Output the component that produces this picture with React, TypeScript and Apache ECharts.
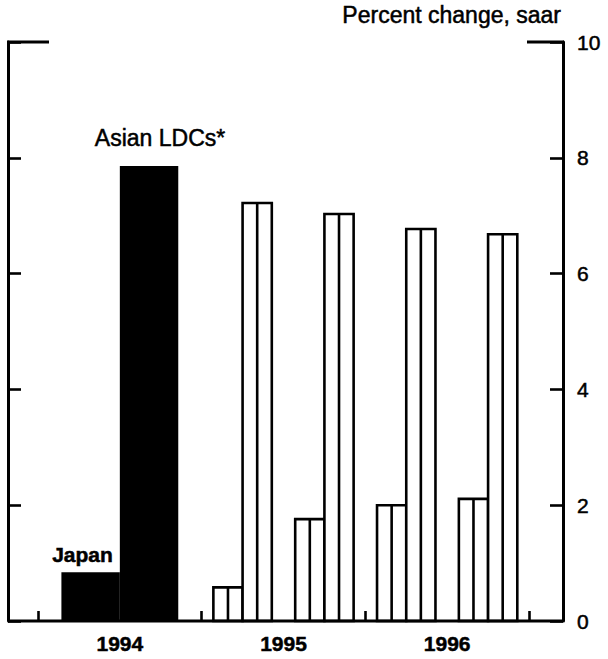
import React, { useEffect, useRef } from 'react';
import * as echarts from 'echarts';

// ---- data ----
const periods = ['1994', '1995 H1', '1995 H2', '1996 H1', '1996 H2'];
const periodStart = [1994, 1995, 1995.5, 1996, 1996.5];
const periodEnd = [1995, 1995.5, 1996, 1996.5, 1997];
const japan = [0.84, 0.58, 1.76, 2.0, 2.11];
const asianLDCs = [7.86, 7.22, 7.03, 6.77, 6.68];
const yearLabels = ['1994', '1995', '1996'];
const yMin = 0;
const yMax = 10;
const yInterval = 2;

const FONT = '"Liberation Sans", Arial, Helvetica, sans-serif';
const BAR_FRAC = 0.357;
const LW = 2.6;
const TB = 0.5; // slight text thickening, like the printed original

function makeRender(side: number, labelText: string) {
  return (params: any, api: any) => {
    const s = api.value(0);
    const e = api.value(1);
    const v = api.value(2);
    const c = (s + e) / 2;
    const w = BAR_FRAC * (e - s);
    const x0 = side < 0 ? c - w : c;
    const x1 = side < 0 ? c : c + w;
    const p0 = api.coord([x0, v]);
    const p1 = api.coord([x1, 0]);
    const annual = e - s >= 1;
    const shape = { x: p0[0], y: p0[1], width: p1[0] - p0[0], height: p1[1] - p0[1] };
    const children: any[] = [];
    if (annual) {
      children.push({ type: 'rect', shape, style: { fill: '#000' } });
    } else {
      children.push({ type: 'rect', shape, style: { fill: '#fff', stroke: '#000', lineWidth: LW } });
      const xm = (p0[0] + p1[0]) / 2;
      children.push({
        type: 'line',
        shape: { x1: xm, y1: p0[1], x2: xm, y2: p1[1] },
        style: { stroke: '#000', lineWidth: LW },
      });
    }
    if (params.dataIndex === 0) {
      if (side < 0) {
        children.push({
          type: 'text',
          x: p1[0] - 7,
          y: p0[1] - 18,
          style: {
            text: labelText, align: 'right', verticalAlign: 'middle',
            fontSize: 21, fontWeight: 'bold', fontFamily: FONT, fill: '#000',
            stroke: '#000', lineWidth: TB,
          },
        });
      } else {
        children.push({
          type: 'text',
          x: p0[0] - 25,
          y: p0[1] - 28,
          style: {
            text: labelText, align: 'left', verticalAlign: 'middle',
            fontSize: 23, fontFamily: FONT, fill: '#000',
            stroke: '#000', lineWidth: TB,
          },
        });
      }
    }
    return { type: 'group', children };
  };
}

export default function App() {
  const ref = useRef<HTMLDivElement>(null);
  useEffect(() => {
    document.body.style.margin = '0';
    if (!ref.current) return;
    const chart = echarts.init(ref.current, null, { renderer: 'svg' });
    const japanData = japan.map((v, i) => [periodStart[i], periodEnd[i], v, periods[i]]);
    const asianData = asianLDCs.map((v, i) => [periodStart[i], periodEnd[i], v, periods[i]]);
    chart.setOption({
      animation: false,
      backgroundColor: '#fff',
      grid: { left: 38, right: 79, top: 42, bottom: 38, containLabel: false },
      xAxis: [
        { type: 'value', min: 1994, max: 1997, show: false },
        {
          type: 'category',
          data: yearLabels,
          position: 'bottom',
          boundaryGap: true,
          axisLine: { show: false },
          axisTick: { show: true, inside: true, length: 10, interval: 0, lineStyle: { color: '#000', width: LW } },
          axisLabel: {
            margin: 12, fontSize: 21, fontWeight: 'bold', fontFamily: FONT, color: '#000',
            textBorderColor: '#000', textBorderWidth: TB,
          },
          splitLine: { show: false },
        },
      ],
      yAxis: [
        {
          type: 'value', position: 'left', offset: 30,
          min: yMin, max: yMax, interval: yInterval,
          axisLine: { show: true, lineStyle: { color: '#000', width: 3 } },
          axisTick: { show: true, inside: true, length: 13, lineStyle: { color: '#000', width: LW } },
          axisLabel: { show: false },
          splitLine: { show: false },
        },
        {
          type: 'value', position: 'right', offset: 34,
          min: yMin, max: yMax, interval: yInterval,
          axisLine: { show: true, lineStyle: { color: '#000', width: 3 } },
          axisTick: { show: true, inside: true, length: 13, lineStyle: { color: '#000', width: LW } },
          axisLabel: {
            show: true, margin: 14, fontSize: 21, fontFamily: FONT, color: '#000',
            textBorderColor: '#000', textBorderWidth: TB,
          },
          splitLine: { show: false },
        },
      ],
      graphic: [
        { type: 'line', shape: { x1: 8, y1: 621, x2: 563, y2: 621 }, style: { stroke: '#000', lineWidth: 3 }, z: 100 },
        { type: 'line', shape: { x1: 7, y1: 42, x2: 49, y2: 42 }, style: { stroke: '#000', lineWidth: 3 }, z: 100 },
        { type: 'line', shape: { x1: 527, y1: 42, x2: 564, y2: 42 }, style: { stroke: '#000', lineWidth: 3 }, z: 100 },
        {
          type: 'text', x: 561, y: 15,
          style: {
            text: 'Percent change, saar', align: 'right', verticalAlign: 'middle',
            fontSize: 23, fontFamily: FONT, fill: '#000', stroke: '#000', lineWidth: TB,
          },
        },
      ],
      series: [
        {
          name: 'Japan', type: 'custom', xAxisIndex: 0, yAxisIndex: 0,
          renderItem: makeRender(-1, 'Japan'),
          encode: { x: [0, 1], y: 2 },
          data: japanData,
        },
        {
          name: 'Asian LDCs*', type: 'custom', xAxisIndex: 0, yAxisIndex: 0,
          renderItem: makeRender(1, 'Asian LDCs*'),
          encode: { x: [0, 1], y: 2 },
          data: asianData,
        },
      ],
    });
    return () => chart.dispose();
  }, []);
  return <div ref={ref} style={{ width: 608, height: 659 }} />;
}
